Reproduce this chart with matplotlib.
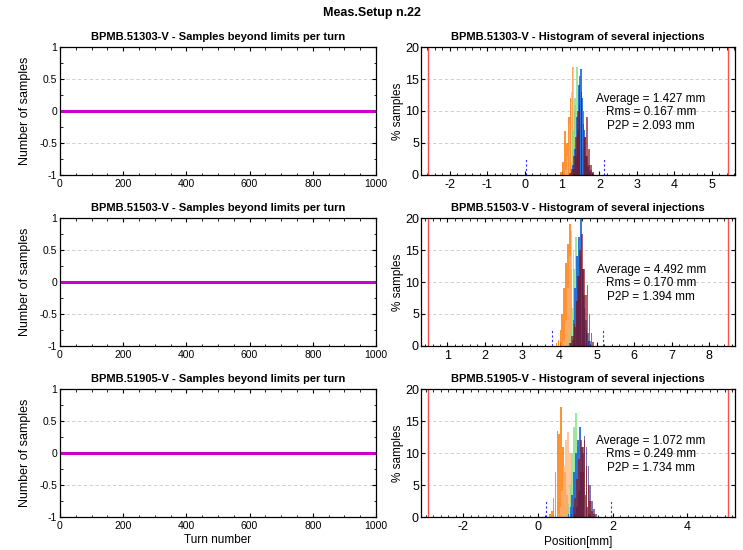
import numpy as np
import matplotlib
matplotlib.use("Agg")
import matplotlib.pyplot as plt
from matplotlib.ticker import MultipleLocator, FormatStrFormatter

plt.rcParams['font.family'] = ['Liberation Sans', 'DejaVu Sans']
plt.rcParams['axes.unicode_minus'] = False

# ---- data ----
suptitle = "Meas.Setup n.22"
bpms = ["BPMB.51303-V", "BPMB.51503-V", "BPMB.51905-V"]
averages = [1.427, 4.492, 1.072]
rms_vals = [0.167, 0.170, 0.249]
p2p_vals = [2.093, 1.394, 1.734]
pos_min = [0.03, 3.79, 0.22]
pos_max = [2.12, 5.17, 1.96]
limit_halfwidth = 4.0

turns = np.arange(0, 1001)
beyond_counts = np.zeros(len(turns))

bin_step = 0.05
series_colors = ["#ff7f0e", "#ffb27a", "#7ee07e", "#1560e0", "#1a1f80", "#8b1010"]
series_alpha = [0.85, 0.75, 0.75, 0.85, 0.6, 0.65]

# per injection: (first bin centre, percentages per bin)
hist_51303 = [
    (0.98, [0.5, 2.0, 6.8, 5.0, 9.0, 12.0, 16.8, 10.0, 6.0, 2.5, 1.0, 0.3]),
    (1.10, [0.8, 3.0, 8.0, 13.0, 16.8, 11.0, 6.0, 2.0, 0.7]),
    (1.20, [0.5, 2.0, 7.0, 12.0, 16.8, 13.0, 8.0, 4.0, 1.5, 0.5]),
    (1.25, [0.5, 1.5, 4.0, 9.0, 14.0, 16.5, 12.0, 7.0, 3.0, 1.2, 0.4]),
    (1.32, [1.0, 3.0, 7.0, 11.0, 13.0, 10.0, 6.0, 3.0, 1.5, 0.8, 0.3]),
    (1.22, [0.3, 1.0, 3.0, 6.0, 10.0, 15.5, 12.0, 8.0, 6.0, 9.0, 4.0, 1.5, 0.5]),
]
hist_51503 = [
    (3.92, [0.5, 1.0, 2.5, 5.0, 9.0, 13.0, 16.0, 19.0, 12.0, 6.0, 2.5, 0.8]),
    (4.12, [1.0, 4.0, 9.0, 14.0, 18.0, 15.0, 9.0, 4.0, 1.0]),
    (4.24, [0.5, 2.0, 6.0, 12.0, 17.0, 14.0, 9.0, 4.0, 1.5, 0.5]),
    (4.27, [0.5, 1.5, 4.0, 9.0, 14.0, 17.0, 20.0, 12.0, 6.0, 2.5, 0.8]),
    (4.36, [1.0, 3.0, 7.0, 11.0, 14.0, 12.0, 8.0, 4.0, 2.0, 0.8]),
    (4.30, [0.5, 1.5, 3.5, 7.0, 11.0, 15.0, 17.5, 12.0, 8.0, 9.5, 5.0, 2.0, 0.7]),
]
hist_51905 = [
    (0.32, [0.5, 1.0, 3.0, 7.0, 13.4, 13.0, 17.2, 11.0, 7.0, 3.5, 1.5, 0.5]),
    (0.55, [0.5, 1.5, 4.0, 8.0, 12.0, 13.3, 10.0, 6.0, 3.0, 1.0, 0.4]),
    (0.77, [0.5, 2.0, 5.0, 10.0, 14.0, 16.2, 11.0, 6.0, 2.5, 0.8]),
    (0.82, [0.5, 1.5, 3.5, 7.0, 10.0, 12.0, 14.0, 11.0, 7.0, 3.5, 1.5, 0.5]),
    (1.00, [0.5, 1.5, 4.0, 7.0, 10.0, 12.7, 11.0, 8.0, 5.0, 2.5, 1.2, 0.5]),
    (0.90, [0.5, 1.5, 3.0, 6.0, 9.0, 12.0, 11.0, 12.0, 8.0, 5.0, 2.5, 1.0, 0.4]),
]
histograms = [hist_51303, hist_51503, hist_51905]
hist_major = [1, 1, 2]
hist_minor = [0.2, 0.2, 0.2]

# ---- figure ----
W, H = 743, 550
fig = plt.figure(figsize=(W / 100, H / 100), dpi=100)
fig.patch.set_facecolor("white")
fig.text(0.5, 1 - 13 / H, suptitle, ha="center", va="center",
         fontsize=9, fontweight="bold")

row_tops = [47, 218, 389]
row_h = 128
left_x0, left_x1 = 60, 376
right_x0, right_x1 = 421, 735
narrow = ['Liberation Sans Narrow', 'Liberation Sans', 'DejaVu Sans']


def px_axes(x0, x1, top):
    return fig.add_axes([x0 / W, 1 - (top + row_h) / H, (x1 - x0) / W, row_h / H])


def style(ax, fs):
    ax.tick_params(which="both", direction="in", top=True, right=True,
                   labelsize=fs, pad=3)
    ax.tick_params(which="major", length=3)
    ax.tick_params(which="minor", length=1.8)
    for s in ax.spines.values():
        s.set_linewidth(0.9)
    ax.grid(axis="y", which="major", linestyle=(0, (4, 3)),
            color="#c8c8c8", linewidth=0.6)
    ax.set_axisbelow(True)


for i in range(3):
    top = row_tops[i]

    # samples beyond limits per turn
    ax = px_axes(left_x0, left_x1, top)
    ax.plot(turns, beyond_counts, color="#cc00cc", linewidth=2.2)
    ax.set_xlim(0, 1000)
    ax.set_ylim(-1, 1)
    ax.xaxis.set_major_locator(MultipleLocator(200))
    ax.xaxis.set_minor_locator(MultipleLocator(50))
    ax.yaxis.set_major_locator(MultipleLocator(0.5))
    ax.yaxis.set_minor_locator(MultipleLocator(0.25))
    ax.yaxis.set_major_formatter(FormatStrFormatter("%g"))
    style(ax, 7.5)
    for lab in ax.get_xticklabels() + ax.get_yticklabels():
        lab.set_family(narrow)
    ax.tick_params(axis="y", pad=2)
    ax.set_ylabel("Number of samples", fontsize=9, labelpad=6)
    ax.set_title(f"{bpms[i]} - Samples beyond limits per turn",
                 fontsize=8, fontweight="bold", pad=5)
    if i == 2:
        ax.set_xlabel("Turn number", fontsize=8.5, labelpad=2)

    # histogram of several injections
    ax = px_axes(right_x0, right_x1, top)
    avg = averages[i]
    for (start, heights), c, a in zip(histograms[i], series_colors, series_alpha):
        centres = start + bin_step * np.arange(len(heights))
        ax.bar(centres, heights, width=0.045, color=c, alpha=a, linewidth=0)
    ax.axvline(avg - limit_halfwidth, color="#ff5050", linewidth=1.0)
    ax.axvline(avg + limit_halfwidth, color="#ff5050", linewidth=1.0)
    ax.plot([pos_min[i]] * 2, [0, 2.5], color="#3030ff", linestyle=(0, (2, 2)),
            linewidth=0.8)
    ax.plot([pos_max[i]] * 2, [0, 2.5], color="#3030ff", linestyle=(0, (2, 2)),
            linewidth=0.8)
    ax.set_xlim(avg - 4.2, avg + 4.2)
    ax.set_ylim(0, 20)
    ax.xaxis.set_major_locator(MultipleLocator(hist_major[i]))
    ax.xaxis.set_minor_locator(MultipleLocator(hist_minor[i]))
    ax.yaxis.set_major_locator(MultipleLocator(5))
    style(ax, 9)
    ax.tick_params(axis="y", pad=1.5)
    ax.set_ylabel("% samples", fontsize=8.5, labelpad=1)
    ax.set_title(f"{bpms[i]} - Histogram of several injections",
                 fontsize=8, fontweight="bold", pad=5)
    txt = (f"Average = {avg:.3f} mm\nRms = {rms_vals[i]:.3f} mm\n"
           f"P2P = {p2p_vals[i]:.3f} mm")
    ax.text(0.733, 0.49, txt, transform=ax.transAxes, ha="center", va="center",
            fontsize=8.5, linespacing=1.15)
    if i == 2:
        ax.set_xlabel("Position[mm]", fontsize=8.5, labelpad=2)

fig.savefig("out.png", dpi=100, facecolor="white")
